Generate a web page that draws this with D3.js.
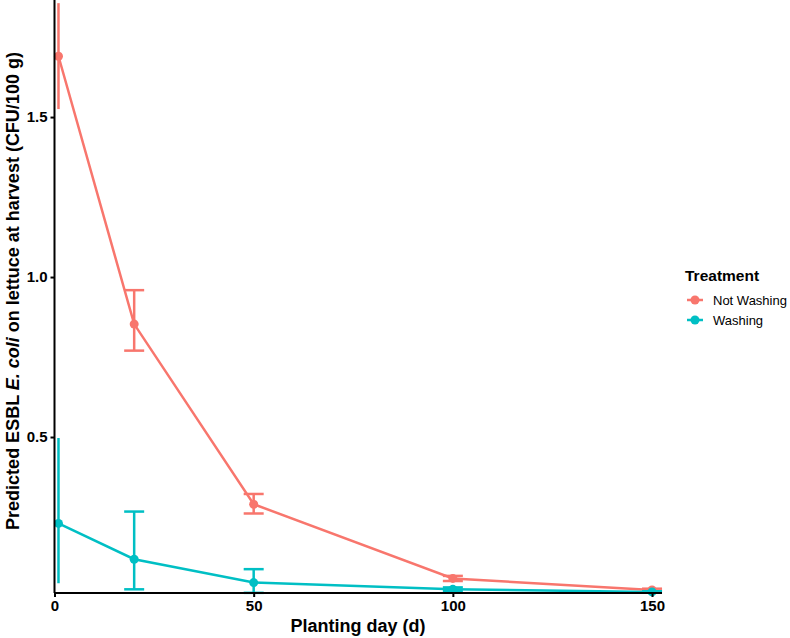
<!DOCTYPE html>
<html>
<head>
 <title>ESBL E. coli on lettuce</title>
    <script src="https://d3js.org/d3.v7.min.js"></script>
    <style>
        body { margin: 0; background: #fff; }
        text { font-family: "Liberation Sans", Arial, sans-serif; }
    </style>
</head>
<body>
 <div id="chart"></div>

 <script type="text/javascript">

 // planting day and predicted values
 var days = [1, 20, 50, 100, 150];
 var notWashing = [1.69, 0.853, 0.29, 0.058, 0.022];
 var notWashingLo = [1.525, 0.770, 0.261, 0.050, 0.018];
 var notWashingHi = [1.856, 0.959, 0.322, 0.066, 0.026];
 var washing = [0.23, 0.118, 0.045, 0.024, 0.016];
 var washingLo = [0.043, 0.024, 0.013, 0.018, 0.014];
 var washingHi = [0.497, 0.267, 0.087, 0.030, 0.018];
 var treatments = ["Not Washing", "Washing"];
 var xTicks = [0, 50, 100, 150];
 var yTicks = [0.5, 1.0, 1.5];

 var width = 790, height = 638;
 var colors = { "Not Washing": "#F8766D", "Washing": "#00BFC4" };

 var x = d3.scaleLinear().domain([0, 152.5]).range([54.5, 662]);
 var y = d3.scaleLinear().domain([0.0125, 1.8565]).range([593, 3]);

 var svg = d3.select("#chart").append("svg")
    .attr("width", width)
    .attr("height", height);

 var series = [
    { name: "Not Washing", vals: notWashing, lo: notWashingLo, hi: notWashingHi },
    { name: "Washing", vals: washing, lo: washingLo, hi: washingHi }
 ];

 var line = d3.line()
    .x(function(d) { return x(d.x); })
    .y(function(d) { return y(d.y); });

 series.forEach(function(s) {
    var pts = days.map(function(d, i) {
        return { x: d, y: s.vals[i], lo: s.lo[i], hi: s.hi[i] };
    });
    var col = colors[s.name];
    var g = svg.append("g");

    // error bars (no caps at the first day, like the original)
    g.selectAll("line.eb")
     .data(pts)
     .enter().append("line")
     .attr("x1", function(d) { return x(d.x); })
     .attr("x2", function(d) { return x(d.x); })
     .attr("y1", function(d) { return y(d.lo); })
     .attr("y2", function(d) { return y(d.hi); })
     .style("stroke", col)
     .style("stroke-width", 2.5);

    var capped = pts.filter(function(d) { return d.x > 1; });
    ["lo", "hi"].forEach(function(k) {
        g.selectAll("line.cap" + k)
         .data(capped)
         .enter().append("line")
         .attr("x1", function(d) { return x(d.x) - 10; })
         .attr("x2", function(d) { return x(d.x) + 10; })
         .attr("y1", function(d) { return y(d[k]); })
         .attr("y2", function(d) { return y(d[k]); })
         .style("stroke", col)
         .style("stroke-width", 2.5);
    });

    g.append("path")
     .datum(pts)
     .attr("d", line)
     .style("fill", "none")
     .style("stroke", col)
     .style("stroke-width", 2.5);

    g.selectAll("circle")
     .data(pts)
     .enter().append("circle")
     .attr("cx", function(d) { return x(d.x); })
     .attr("cy", function(d) { return y(d.y); })
     .attr("r", 4.5)
     .style("fill", col);
 });

 // axes
 var xAxis = svg.append("g")
    .attr("transform", "translate(0,593)")
    .call(d3.axisBottom(x).tickValues(xTicks).tickSize(4).tickPadding(3));
 var yAxis = svg.append("g")
    .attr("transform", "translate(54.5,0)")
    .call(d3.axisLeft(y).tickValues(yTicks).tickFormat(d3.format(".1f")).tickSize(4).tickPadding(3));

 [xAxis, yAxis].forEach(function(a) {
    a.select(".domain").style("stroke", "#000").style("stroke-width", 2);
    a.selectAll(".tick line").style("stroke", "#000").style("stroke-width", 2);
    a.selectAll(".tick text")
     .style("font-family", "Liberation Sans, Arial, sans-serif")
     .style("font-size", "15px")
     .style("font-weight", "bold")
     .style("fill", "#000");
 });
 xAxis.select(".domain").attr("d", "M54.5,0H662");
 yAxis.select(".domain").attr("d", "M0,0V593");

 svg.append("text")
    .attr("x", 358)
    .attr("y", 632)
    .attr("text-anchor", "middle")
    .style("font-size", "18px")
    .style("font-weight", "bold")
    .text("Planting day (d)");

 var yt = svg.append("text")
    .attr("transform", "translate(19,291) rotate(-90)")
    .attr("text-anchor", "middle")
    .style("font-size", "18px")
    .style("font-weight", "bold");
 yt.append("tspan").text("Predicted ESBL ");
 yt.append("tspan").style("font-style", "italic").text("E. coli");
 yt.append("tspan").text(" on lettuce at harvest (CFU/100 g)");

 // legend
 var legend = svg.append("g").attr("transform", "translate(685,0)");
 legend.append("text")
    .attr("x", 0)
    .attr("y", 281)
    .style("font-size", "15.5px")
    .style("font-weight", "bold")
    .text("Treatment");

 var items = legend.selectAll("g.item")
    .data(treatments)
    .enter().append("g")
    .attr("transform", function(d, i) { return "translate(0," + (300 + i * 20) + ")"; });
 items.append("line")
    .attr("x1", 2).attr("x2", 18)
    .style("stroke", function(d) { return colors[d]; })
    .style("stroke-width", 2.5);
 items.append("circle")
    .attr("cx", 10).attr("r", 4.5)
    .style("fill", function(d) { return colors[d]; });
 items.append("text")
    .attr("x", 28)
    .attr("y", 5)
    .style("font-size", "13px")
    .text(function(d) { return d; });
</script>
</body>
</html>
